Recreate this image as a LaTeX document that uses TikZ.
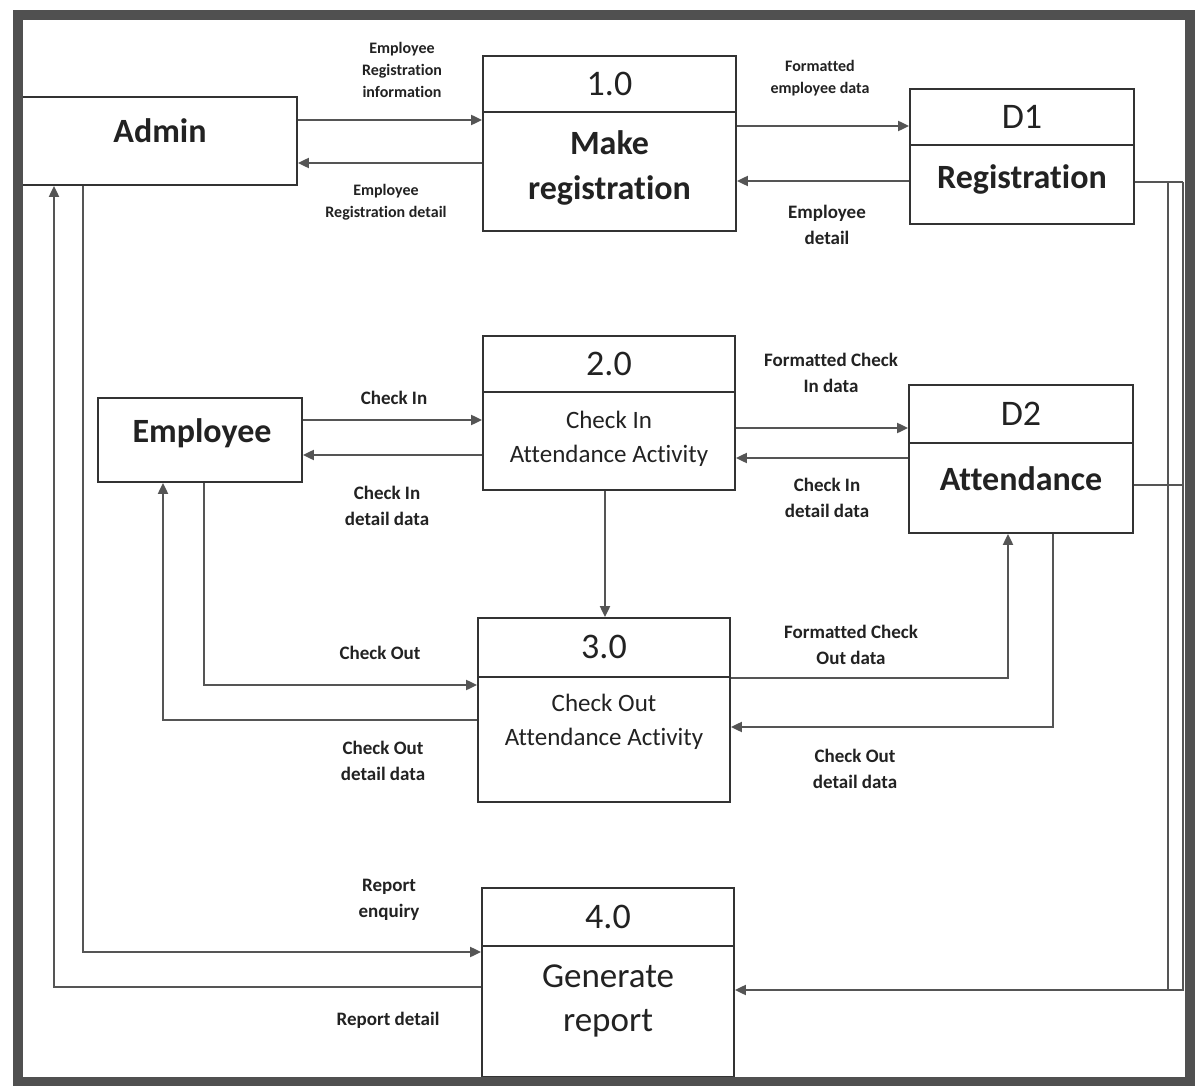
\documentclass[tikz,border=0pt]{standalone}
\usepackage{fontspec}
\setmainfont{Carlito}[Ligatures=NoCommon]
\usetikzlibrary{arrows.meta}
\definecolor{boxc}{HTML}{333333}
\definecolor{flowc}{HTML}{555555}
\definecolor{txt}{HTML}{222222}
\definecolor{framec}{HTML}{505050}
\begin{document}
\begin{tikzpicture}[x=1pt,y=-1pt,
  boxline/.style={draw=boxc, line width=1.8pt},
  proc/.style={boxline, rectangle, inner sep=0pt, fill=white},
  flow/.style={draw=flowc, line width=2pt, -{Triangle[length=11pt,width=10pt]}},
  plain/.style={draw=flowc, line width=2pt},
  big/.style={font=\fontsize{34}{45}\selectfont\bfseries, text=txt, align=center, inner sep=0pt},
  bigr/.style={font=\fontsize{35}{44}\selectfont, text=txt, align=center, inner sep=0pt},
  num/.style={font=\fontsize{36}{40}\selectfont, text=txt, inner sep=0pt},
  mid/.style={font=\fontsize{25}{34}\selectfont, text=txt, align=center, inner sep=0pt},
  lab/.style={font=\fontsize{19}{25.5}\selectfont\bfseries, text=txt, align=center, inner sep=0pt},
  slab/.style={font=\fontsize{16}{22}\selectfont\bfseries, text=txt, align=center, inner sep=0pt},
]
\useasboundingbox (0,0) rectangle (1195,1086);
\fill[white] (0,0) rectangle (1195,1086);

% boxes
\node[proc, minimum width=275pt, minimum height=88pt] (adm) at (159.5,141) {};
\node[proc, minimum width=204pt, minimum height=84pt] (emp) at (200,440) {};
\node[proc, minimum width=253pt, minimum height=175pt] (p1) at (609.5,143.5) {};
\node[proc, minimum width=224pt, minimum height=135pt] (d1) at (1022,156.5) {};
\node[proc, minimum width=252pt, minimum height=154pt] (p2) at (609,413) {};
\node[proc, minimum width=224pt, minimum height=148pt] (d2) at (1021,459) {};
\node[proc, minimum width=252pt, minimum height=184pt] (p3) at (604,710) {};
\node[proc, minimum width=252pt, minimum height=189pt] (p4) at (608,982.5) {};

% dividers
\draw[boxline] (p1.west |- 0,112) -- (p1.east |- 0,112);
\draw[boxline] (d1.west |- 0,145) -- (d1.east |- 0,145);
\draw[boxline] (p2.west |- 0,392) -- (p2.east |- 0,392);
\draw[boxline] (d2.west |- 0,443) -- (d2.east |- 0,443);
\draw[boxline] (p3.west |- 0,677) -- (p3.east |- 0,677);
\draw[boxline] (p4.west |- 0,946) -- (p4.east |- 0,946);

% box texts
\node[big] (tadm) at (160,131) {Admin};
\node[big] (temp) at (202,433) {Employee};
\node[num] (n1) at (609.5,84) {1.0};
\node[big] (t1) at (609.5,168) {Make\\registration};
\node[num] (nd1) at (1022,117) {D1};
\node[big] (td1) at (1022,179) {Registration};
\node[num] (n2) at (609,364) {2.0};
\node[mid] (t2) at (609,439) {Check In\\Attendance Activity};
\node[num] (nd2) at (1021,414) {D2};
\node[big] (td2) at (1021,479) {Attendance};
\node[num] (n3) at (604,647) {3.0};
\node[mid] (t3) at (604,722) {Check Out\\Attendance Activity};
\node[num] (n4) at (608,917) {4.0};
\node[bigr] (t4) at (608,1001) {Generate\\report};

% connector turning points
\coordinate (c10a) at (204,685);
\coordinate (c11a) at (163,720);
\coordinate (c12a) at (1008,678);
\coordinate (c13a) at (1053,727);
\coordinate (c14a) at (83,952);
\coordinate (c15a) at (54,987);
\coordinate (r1) at (1183,182);
\coordinate (r2) at (1183,485);
\coordinate (r3) at (1183,990);
\coordinate (q1) at (1168,182);
\coordinate (q3) at (1168,990);

% flows
\draw[flow] (adm.east |- 0,120) -- (p1.west |- 0,120);
\draw[flow] (p1.west |- 0,163) -- (adm.east |- 0,163);
\draw[flow] (p1.east |- 0,126) -- (d1.west |- 0,126);
\draw[flow] (d1.west |- 0,181) -- (p1.east |- 0,181);
\draw[flow] (emp.east |- 0,420) -- (p2.west |- 0,420);
\draw[flow] (p2.west |- 0,455) -- (emp.east |- 0,455);
\draw[flow] (p2.east |- 0,428) -- (d2.west |- 0,428);
\draw[flow] (d2.west |- 0,458) -- (p2.east |- 0,458);
\draw[flow] (p2.south -| 605,0) -- (p3.north -| 605,0);
\draw[flow] (emp.south -| c10a) -- (c10a) -- (p3.west |- c10a);
\draw[flow] (p3.west |- c11a) -- (c11a) -- (emp.south -| c11a);
\draw[flow] (p3.east |- c12a) -- (c12a) -- (d2.south -| c12a);
\draw[flow] (d2.south -| c13a) -- (c13a) -- (p3.east |- c13a);
\draw[flow] (adm.south -| c14a) -- (c14a) -- (p4.west |- c14a);
\draw[flow] (p4.west |- c15a) -- (c15a) -- (adm.south -| c15a);
\draw[plain] (d1.east |- r1) -- (r1);
\draw[plain] (d2.east |- r2) -- (r2);
\draw[plain] (q1) -- (q3);
\draw[flow] (r1) -- (r3) -- (p4.east |- r3);

% labels
\node[slab] (l1) at (402,70) {Employee\\Registration\\information};
\node[slab] (l2) at (386,202) {Employee\\Registration detail};
\node[slab] (l3) at (820,78) {Formatted\\employee data};
\node[lab] (l4) at (827,225) {Employee\\detail};
\node[lab] (l5) at (394,398) {Check In};
\node[lab] (l6) at (387,506) {Check In\\detail data};
\node[lab] (l7) at (831,373) {Formatted Check\\In data};
\node[lab] (l8) at (827,498) {Check In\\detail data};
\node[lab] (l9) at (380,653) {Check Out};
\node[lab] (l10) at (383,761) {Check Out\\detail data};
\node[lab] (l11) at (851,645) {Formatted Check\\Out data};
\node[lab] (l12) at (855,769) {Check Out\\detail data};
\node[lab] (l13) at (389,900) {Report\\enquiry};
\node[lab] (l14) at (388,1020) {Report detail};

% outer frame
\draw[draw=framec, line width=10pt] (18,15) rectangle (1190,1081.5);
\end{tikzpicture}
\end{document}
